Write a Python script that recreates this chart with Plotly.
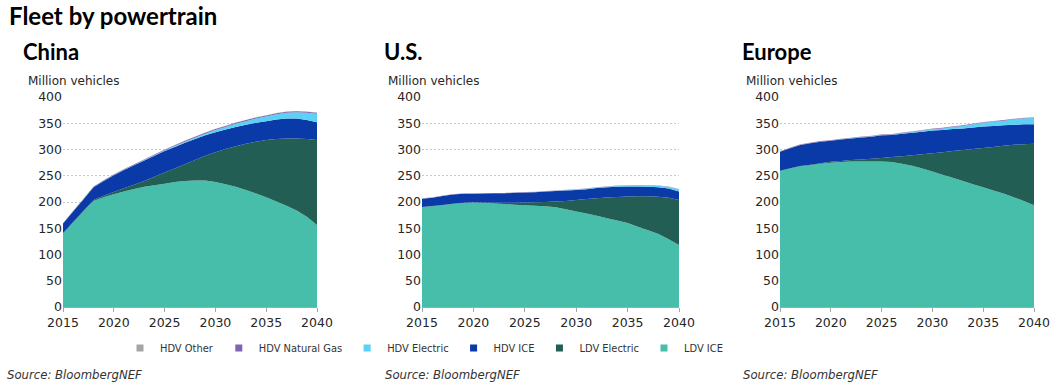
import plotly.graph_objects as go

years = list(range(2015, 2041))
series_names = ["LDV ICE", "LDV Electric", "HDV ICE", "HDV Electric", "HDV Natural Gas", "HDV Other"]
series_colors = ["#46BEAA", "#235E55", "#0A3AA8", "#5AD2F5", "#8064B4", "#A5A5A5"]

# China (million vehicles)
cn_ldv_ice = [140, 161, 182, 202, 209, 215, 220, 225, 229, 232, 235, 238, 240, 241, 241, 238, 234, 229, 223, 216, 209, 201, 193, 184, 172, 156]
cn_ldv_elec = [1, 1, 1, 2, 3, 4, 6, 8, 11, 16, 21, 26, 32, 39, 47, 57, 67, 77, 88, 99, 109, 119, 128, 137, 148, 162]
cn_hdv_ice = [18, 20, 22, 24, 28, 32, 35, 37, 39, 40, 41, 41, 41, 40, 39, 38, 37, 37, 36, 36, 36, 37, 38, 38, 36, 34]
cn_hdv_elec = [0.1, 0.1, 0.1, 0.2, 0.3, 0.4, 0.5, 0.6, 0.8, 1, 1.2, 1.5, 2, 2.5, 3, 4, 5, 6, 7, 8, 9, 10, 11, 12, 14, 16]
cn_hdv_ng = [0.6, 0.7, 0.8, 0.9, 1, 1, 1.1, 1.2, 1.3, 1.4, 1.5, 1.6, 1.7, 1.8, 1.9, 2, 2, 2, 2, 2, 2, 2, 2, 2, 2, 2]
cn_hdv_other = [0.3] * 26

# U.S.
us_ldv_ice = [190, 192, 194, 196, 198, 199, 198, 197, 196, 195, 194, 193, 192, 190, 186, 182, 178, 174, 169, 165, 160, 153, 146, 139, 129, 118]
us_ldv_elec = [0.3, 0.3, 0.4, 0.5, 0.6, 0.7, 1, 1.5, 2.5, 3.5, 5, 6.5, 8, 11, 16, 22, 27.5, 33, 39.5, 44.5, 50.5, 58, 65, 71, 79, 86]
us_hdv_ice = [16, 16, 17, 18, 17, 16, 17, 18, 18, 19, 19, 19, 20, 20, 20, 19, 19, 19.5, 19.5, 19.5, 19, 18.5, 18, 18, 17.5, 16]
us_hdv_elec = [0, 0, 0, 0, 0, 0, 0, 0, 0, 0, 0.1, 0.1, 0.2, 0.3, 0.4, 0.5, 0.7, 0.9, 1.1, 1.4, 1.7, 2, 2.4, 2.8, 3.2, 4]
us_hdv_ng = [0.5] * 26
us_hdv_other = [0.3] * 26

# Europe
eu_ldv_ice = [259, 264, 268, 270, 273, 275, 276, 277, 277, 277, 277, 276, 273, 269, 264, 258, 252, 246, 240, 234, 228, 222, 216, 209, 202, 194]
eu_ldv_elec = [0.5, 0.5, 0.7, 1, 1, 1.5, 2, 3, 4, 5.5, 7, 9.5, 14, 20, 27, 35, 43, 51, 59, 67, 75, 83, 91, 100, 108, 117]
eu_hdv_ice = [36, 38, 40, 41, 41, 40, 41, 41, 42, 42, 43, 42, 43, 43, 43, 43, 42, 42, 41, 41, 41, 40, 39, 38, 38, 37]
eu_hdv_elec = [0, 0, 0, 0, 0, 0.1, 0.1, 0.2, 0.3, 0.4, 0.5, 0.7, 1, 1.3, 1.8, 2.5, 3.2, 4, 5, 6, 7, 8, 9, 10, 11, 12]
eu_hdv_ng = [1.0] * 26
eu_hdv_other = [0.4] * 26

regions = ["China", "U.S.", "Europe"]
region_data = [
    [cn_ldv_ice, cn_ldv_elec, cn_hdv_ice, cn_hdv_elec, cn_hdv_ng, cn_hdv_other],
    [us_ldv_ice, us_ldv_elec, us_hdv_ice, us_hdv_elec, us_hdv_ng, us_hdv_other],
    [eu_ldv_ice, eu_ldv_elec, eu_hdv_ice, eu_hdv_elec, eu_hdv_ng, eu_hdv_other],
]

W, H = 1062, 390
x_domains_px = [(63, 317), (422, 679), (780, 1034)]
y_top_px, y_bot_px = 97, 307

TICK_FONT = dict(family="DejaVu Sans", size=12.5, color="#262626")
NARROW = "DejaVu Sans Condensed, Roboto, Liberation Sans, sans-serif"

fig = go.Figure()
for i, (region, data) in enumerate(zip(regions, region_data)):
    sfx = "" if i == 0 else str(i + 1)
    for name, color, vals in zip(series_names, series_colors, data):
        fig.add_trace(go.Scatter(
            x=years, y=vals, name=name, stackgroup="g" + str(i),
            mode="none", fillcolor=color, showlegend=False,
            xaxis="x" + sfx, yaxis="y" + sfx,
        ))

# legend-only entries with square swatches
for name, color in zip(series_names, series_colors):
    fig.add_trace(go.Scatter(
        x=[None], y=[None], mode="markers", name=name,
        marker=dict(symbol="square", size=7, color=color),
        showlegend=True,
    ))

layout = dict(
    width=W, height=H,
    margin=dict(l=0, r=0, t=0, b=0, autoexpand=False),
    paper_bgcolor="white", plot_bgcolor="white",
    showlegend=True,
    legend=dict(
        orientation="h", traceorder="reversed",
        x=424 / W, xanchor="center", y=1 - 348 / H, yanchor="middle",
        font=dict(family=NARROW, size=11, color="#333333"),
        itemwidth=30, bgcolor="rgba(0,0,0,0)",
    ),
)

annotations = [dict(
    text="<b>Fleet by powertrain</b>", x=7 / W, y=1 - 16 / H, xref="paper", yref="paper",
    xanchor="left", yanchor="middle", showarrow=False,
    font=dict(family="Lato, sans-serif", size=24, color="#000000"),
)]
sub_x = [21, 382, 740]
unit_x = [26, 386, 744]
src_x = [5, 383, 741]
for i, (x0, x1) in enumerate(x_domains_px):
    sfx = "" if i == 0 else str(i + 1)
    layout["xaxis" + sfx] = dict(
        domain=[x0 / W, x1 / W], range=[2015, 2040], anchor="y" + sfx,
        tickvals=[2015, 2020, 2025, 2030, 2035, 2040], ticks="outside", ticklen=4,
        tickcolor="#A6A6A6", showline=True, linecolor="#A6A6A6", linewidth=1,
        showgrid=False, zeroline=False, tickfont=TICK_FONT, fixedrange=True,
        automargin=False,
    )
    layout["yaxis" + sfx] = dict(
        domain=[1 - y_bot_px / H, 1 - y_top_px / H], range=[0, 400], anchor="x" + sfx,
        tickvals=[0, 50, 100, 150, 200, 250, 300, 350, 400],
        showgrid=True, gridcolor="#C8C8C8", griddash="2px,2px", gridwidth=1,
        zeroline=False, showline=False, ticks="", tickfont=TICK_FONT, fixedrange=True,
        automargin=False,
    )
    annotations.append(dict(
        text="<b>" + regions[i] + "</b>", x=sub_x[i] / W, y=1 - 52 / H, xref="paper", yref="paper",
        xanchor="left", yanchor="middle", showarrow=False,
        font=dict(family="Lato, sans-serif", size=22, color="#000000"),
    ))
    annotations.append(dict(
        text="Million vehicles", x=unit_x[i] / W, y=1 - 81 / H, xref="paper", yref="paper",
        xanchor="left", yanchor="middle", showarrow=False,
        font=dict(family="DejaVu Sans", size=12, color="#262626"),
    ))
    annotations.append(dict(
        text="<i>Source: BloombergNEF</i>", x=src_x[i] / W, y=1 - 374 / H, xref="paper", yref="paper",
        xanchor="left", yanchor="middle", showarrow=False,
        font=dict(family=NARROW, size=13, color="#333333"),
    ))
layout["annotations"] = annotations
fig.update_layout(**layout)

fig.write_html("out.html", config={"displayModeBar": False},
               post_script="document.body.style.margin='0px';")
